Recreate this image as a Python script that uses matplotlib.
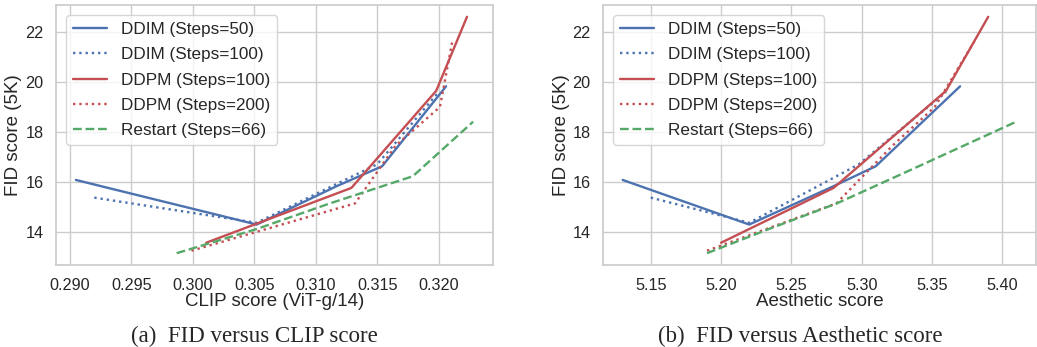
import numpy as np
import matplotlib
matplotlib.use("Agg")
import matplotlib.pyplot as plt
import seaborn as sns

# FID (5K) per sampler, shared by both panels
ddim50_fid = [16.07, 14.28, 15.82, 16.62, 19.83]
ddim100_fid = [15.36, 14.35, 16.70, 19.60]
ddpm100_fid = [13.55, 15.75, 19.65, 22.62]
ddpm200_fid = [13.23, 15.13, 17.45, 19.00, 21.62]
restart_fid = [13.13, 14.10, 15.12, 16.22, 18.41]

# CLIP score (ViT-g/14)
ddim50_clip = [0.2905, 0.3052, 0.3117, 0.3154, 0.3206]
ddim100_clip = [0.2920, 0.3052, 0.3150, 0.3200]
ddpm100_clip = [0.3011, 0.3129, 0.3198, 0.3223]
ddpm200_clip = [0.2999, 0.3132, 0.3165, 0.3201, 0.3211]
restart_clip = [0.2987, 0.3052, 0.3111, 0.3179, 0.3228]

# Aesthetic score
ddim50_aes = [5.13, 5.22, 5.28, 5.31, 5.37]
ddim100_aes = [5.15, 5.22, 5.298, 5.36]
ddpm100_aes = [5.20, 5.28, 5.36, 5.39]
ddpm200_aes = [5.19, 5.282, 5.322, 5.352, 5.38]
restart_aes = [5.19, 5.234, 5.282, 5.325, 5.41]

labels = ["DDIM (Steps=50)", "DDIM (Steps=100)", "DDPM (Steps=100)",
          "DDPM (Steps=200)", "Restart (Steps=66)"]

sns.set_theme(style="whitegrid")
plt.rcParams['font.family'] = ['Liberation Sans', 'DejaVu Sans']
pal = sns.color_palette("deep")
blue, red, green = pal[0], pal[3], pal[2]
styles = [(blue, '-'), (blue, ':'), (red, '-'), (red, ':'), (green, '--')]

fig = plt.figure(figsize=(10.37, 3.47), dpi=100)
ax1 = fig.add_axes([56/1037, 82/347, 437/1037, 260/347])
ax2 = fig.add_axes([603/1037, 82/347, 433/1037, 260/347])

fids = [ddim50_fid, ddim100_fid, ddpm100_fid, ddpm200_fid, restart_fid]
clips = [ddim50_clip, ddim100_clip, ddpm100_clip, ddpm200_clip, restart_clip]
aess = [ddim50_aes, ddim100_aes, ddpm100_aes, ddpm200_aes, restart_aes]

for ax, xs, xlabel in [(ax1, clips, "CLIP score (ViT-g/14)"), (ax2, aess, "Aesthetic score")]:
    for x, y, lab, (c, ls) in zip(xs, fids, labels, styles):
        ax.plot(x, y, color=c, linestyle=ls, linewidth=1.7, label=lab)
    ax.set_xlabel(xlabel, fontsize=13.5, labelpad=0)
    ax.set_ylabel("FID score (5K)", fontsize=13.5)
    ax.tick_params(labelsize=11.7, pad=3)
    ax.set_yticks([14, 16, 18, 20, 22])
    ax.legend(loc="upper left", fontsize=12.3, borderaxespad=0.6, labelspacing=0.6)

ax1.yaxis.set_label_coords(-0.078, 0.5)
ax2.yaxis.set_label_coords(-0.076, 0.5)

ax1.set_xticks([0.290, 0.295, 0.300, 0.305, 0.310, 0.315, 0.320])
ax1.set_xticklabels(["0.290", "0.295", "0.300", "0.305", "0.310", "0.315", "0.320"])
ax2.set_xticks([5.15, 5.20, 5.25, 5.30, 5.35, 5.40])
ax2.set_xticklabels(["5.15", "5.20", "5.25", "5.30", "5.35", "5.40"])

fig.text(254/1037, 0.03, "(a)  FID versus CLIP score", ha="center", va="center",
         fontsize=16.5, family="Liberation Serif")
fig.text(800/1037, 0.03, "(b)  FID versus Aesthetic score", ha="center", va="center",
         fontsize=16.5, family="Liberation Serif")

fig.savefig("out.png", dpi=100)
